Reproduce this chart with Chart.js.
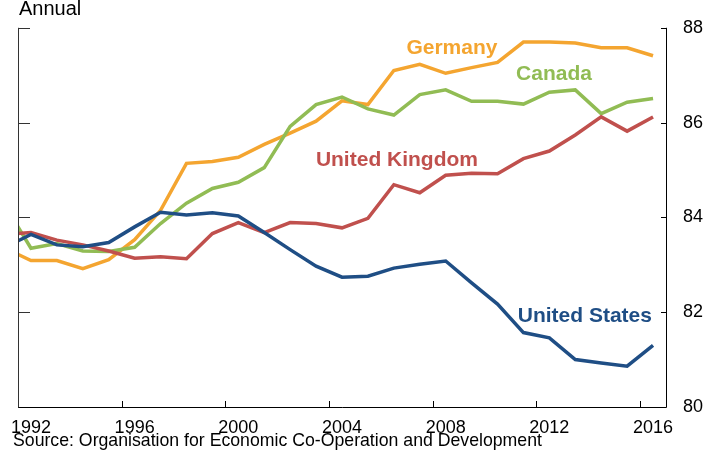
<!DOCTYPE html>
<html>
<head>
<meta charset="utf-8">
<script src="https://cdn.jsdelivr.net/npm/chart.js@4/dist/chart.umd.min.js"></script>
<style>
  html, body { margin: 0; padding: 0; background: #fff; }
  #wrap { width: 725px; height: 453px; }
</style>
</head>
<body>
<div id="wrap"><canvas id="chart" width="725" height="453"></canvas></div>
<script>
// annual values, plotted at mid-year
const years = [1991, 1992, 1993, 1994, 1995, 1996, 1997, 1998, 1999, 2000, 2001, 2002, 2003,
    2004, 2005, 2006, 2007, 2008, 2009, 2010, 2011, 2012, 2013, 2014, 2015, 2016];
const unitedStates = [83.37, 83.64, 83.42, 83.38, 83.47, 83.80, 84.11, 84.05, 84.10, 84.03, 83.68, 83.32, 82.97,
    82.74, 82.76, 82.93, 83.01, 83.08, 82.62, 82.17, 81.57, 81.46, 81.00, 80.93, 80.86, 81.30];
const unitedKingdom = [83.64, 83.68, 83.52, 83.42, 83.29, 83.14, 83.17, 83.13, 83.66, 83.89, 83.68, 83.89, 83.87,
    83.78, 83.98, 84.69, 84.52, 84.89, 84.93, 84.92, 85.24, 85.40, 85.74, 86.12, 85.82, 86.12];
const canada = [84.25, 83.35, 83.45, 83.29, 83.28, 83.37, 83.87, 84.30, 84.61, 84.74, 85.05, 85.92, 86.38,
    86.54, 86.29, 86.16, 86.59, 86.69, 86.45, 86.45, 86.39, 86.64, 86.69, 86.19, 86.43, 86.51];
const germany = [83.35, 83.09, 83.09, 82.92, 83.11, 83.53, 84.15, 85.14, 85.18, 85.27, 85.54, 85.78, 86.03,
    86.46, 86.38, 87.10, 87.23, 87.04, 87.16, 87.27, 87.70, 87.70, 87.68, 87.58, 87.58, 87.41];
const yearLabels = [1992, 1996, 2000, 2004, 2008, 2012, 2016];
const yTicks = [80, 82, 84, 86, 88];

const FONT = '"Liberation Sans", Arial, sans-serif';

const toPoints = (vals) => vals.map((v, i) => ({ x: years[i] + 0.5, y: v }));

function series(label, vals, color) {
    return {
        label: label,
        data: toPoints(vals),
        borderColor: color,
        borderWidth: 3.5,
        pointRadius: 0,
        tension: 0,
        clip: 0
    };
}

// axes with inward tick marks, series labels and the small texts
const decorations = {
    id: 'decorations',
    afterDraw(chart) {
        const ctx = chart.ctx;
        const x = chart.scales.x;
        const y = chart.scales.y;
        const a = chart.chartArea;
        ctx.save();
        ctx.strokeStyle = '#000';
        ctx.lineWidth = 1;
        ctx.beginPath();
        // right axis
        ctx.moveTo(a.right + 0.5, a.top);
        ctx.lineTo(a.right + 0.5, a.bottom);
        yTicks.forEach(v => {
            const py = Math.round(y.getPixelForValue(v)) + 0.5;
            ctx.moveTo(a.right - 5, py);
            ctx.lineTo(a.right + 0.5, py);
        });
        // bottom axis
        ctx.moveTo(a.left, a.bottom + 0.5);
        ctx.lineTo(a.right + 0.5, a.bottom + 0.5);
        yearLabels.forEach(yr => {
            if (yr === 1992) return;
            const px = Math.round(x.getPixelForValue(yr)) + 0.5;
            ctx.moveTo(px, a.bottom);
            ctx.lineTo(px, a.bottom - 6);
        });
        ctx.stroke();
        // left axis
        ctx.strokeStyle = '#333';
        ctx.beginPath();
        ctx.moveTo(a.left + 0.5, a.top);
        ctx.lineTo(a.left + 0.5, a.bottom + 0.5);
        yTicks.forEach(v => {
            if (v === 80) return;
            const py = Math.round(y.getPixelForValue(v)) + 0.5;
            ctx.moveTo(a.left, py);
            ctx.lineTo(a.left + 12, py);
        });
        ctx.stroke();

        // series labels
        ctx.font = 'bold 21px ' + FONT;
        ctx.textAlign = 'center';
        ctx.textBaseline = 'middle';
        chart.options.plugins.decorations.labels.forEach(l => {
            ctx.fillStyle = l.color;
            ctx.fillText(l.text, x.getPixelForValue(l.at[0]), y.getPixelForValue(l.at[1]));
        });

        ctx.fillStyle = '#000';
        ctx.textAlign = 'left';
        ctx.font = '20px ' + FONT;
        ctx.fillText('Annual', 19, 9);
        ctx.font = '17.7px ' + FONT;
        ctx.fillText('Source: Organisation for Economic Co-Operation and Development', 13, 441);
        ctx.restore();
    }
};

new Chart(document.getElementById('chart').getContext('2d'), {
    type: 'line',
    data: {
        datasets: [
            series('United States', unitedStates, '#1F4E85'),
            series('United Kingdom', unitedKingdom, '#C0504D'),
            series('Canada', canada, '#91BC54'),
            series('Germany', germany, '#F4A530')
        ]
    },
    options: {
        responsive: false,
        animation: false,
        layout: { padding: { left: 18, top: 24, right: 0, bottom: 0 } },
        scales: {
            x: {
                type: 'linear',
                min: 1992,
                max: 2017,
                grid: { display: false, drawTicks: false },
                border: { display: false },
                afterBuildTicks: (scale) => {
                    scale.ticks = yearLabels.map(v => ({ value: v + 0.5 }));
                },
                afterFit: (scale) => { scale.height = 46; },
                ticks: {
                    autoSkip: false,
                    maxRotation: 0,
                    padding: 10,
                    color: '#000',
                    font: { family: FONT, size: 18 },
                    callback: (v) => String(Math.floor(v))
                }
            },
            y: {
                position: 'right',
                min: 80,
                max: 88,
                grid: { display: false, drawTicks: false },
                border: { display: false },
                afterFit: (scale) => { scale.width = 59; },
                ticks: {
                    stepSize: 2,
                    padding: 17,
                    color: '#000',
                    font: { family: FONT, size: 18 }
                }
            }
        },
        plugins: {
            legend: { display: false },
            tooltip: { enabled: false },
            decorations: {
                labels: [
                    { text: 'Germany', color: '#F4A530', at: [2008.74, 87.56] },
                    { text: 'Canada', color: '#91BC54', at: [2012.68, 87.02] },
                    { text: 'United Kingdom', color: '#C0504D', at: [2006.62, 85.20] },
                    { text: 'United States', color: '#1F4E85', at: [2013.87, 81.92] }
                ]
            }
        }
    },
    plugins: [decorations]
});
</script>
</body>
</html>
